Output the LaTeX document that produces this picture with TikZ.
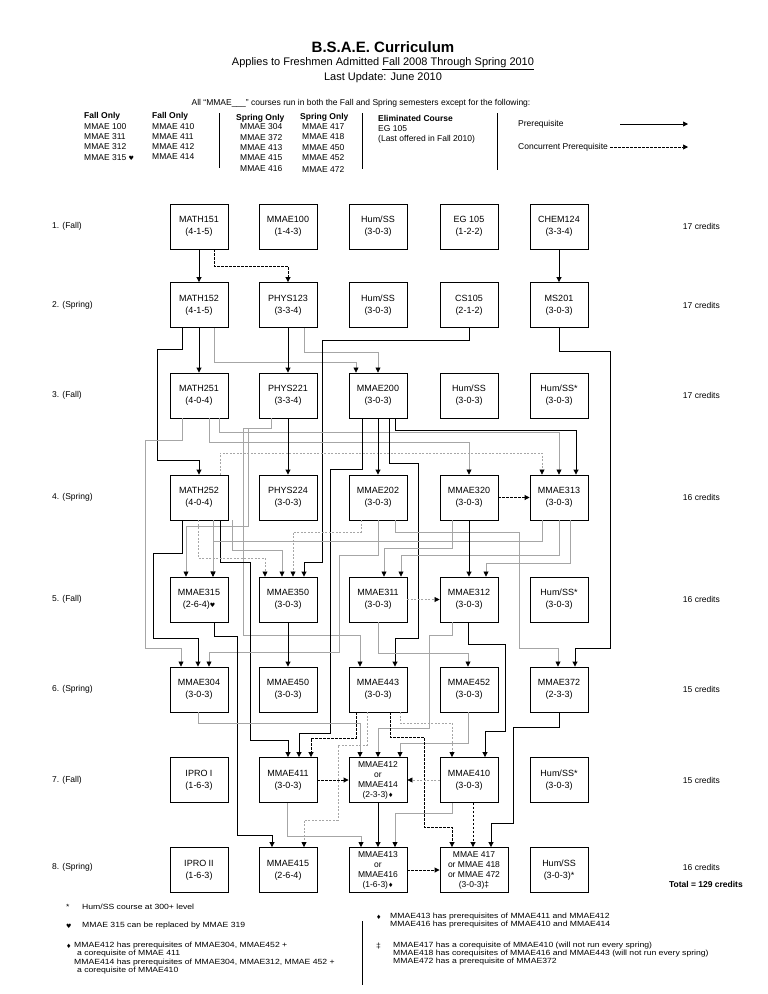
\documentclass[tikz,border=0pt]{standalone}
\usepackage{fontspec}
\setmainfont{Liberation Sans}
\newfontfamily\symfont{DejaVu Sans}
\newfontfamily\notefont[FakeStretch=1.15]{Liberation Sans}
\usetikzlibrary{arrows.meta}
\newcommand{\hrt}{{\symfont\fontsize{6}{6}\selectfont ♥}}
\newcommand{\dmd}{{\symfont\fontsize{6}{6}\selectfont ♦}}

\begin{document}
\begin{tikzpicture}[x=1pt,y=-1pt,>={Triangle[length=5pt,width=5pt]},
  course/.style={draw,line width=0.9pt,minimum width=58pt,minimum height=45pt,inner sep=1pt,align=center,font=\fontsize{9}{12}\selectfont},
  tallcourse/.style={course,font=\fontsize{8.5}{10}\selectfont},
  widecourse/.style={tallcourse,minimum width=68pt},
  pre/.style={line width=0.9pt,->},
  con/.style={pre,dash pattern=on 2.5pt off 1.5pt},
  gpre/.style={black!35,line width=0.7pt,-{Triangle[length=5pt,width=5pt,color=black]}},
  gcon/.style={gpre,dash pattern=on 2pt off 1.5pt},
  rowlab/.style={anchor=west,inner sep=0pt,font=\fontsize{8.5}{10}\selectfont},
  credit/.style={anchor=east,inner sep=0pt,font=\fontsize{8.5}{10}\selectfont},
  legend/.style={anchor=west,inner sep=0pt,font=\fontsize{8.5}{10}\selectfont},
  legendhead/.style={legend,font=\bfseries\fontsize{8.5}{10}\selectfont},
  note/.style={anchor=west,inner sep=0pt,font=\notefont\fontsize{7.5}{8}\selectfont}]
  \useasboundingbox (0,0) rectangle (768,994);

  % header
  \node[font=\bfseries\fontsize{15}{18}\selectfont] (title) at (383,47) {B.S.A.E. Curriculum};
  \node[font=\fontsize{11}{13}\selectfont] (applies) at (383,64) {Applies to Freshmen Admitted \underline{Fall 2008 Through Spring 2010}};
  \node[font=\fontsize{11}{13}\selectfont] (update) at (383,78) {Last Update: June 2010};
  \node[font=\fontsize{8.5}{10}\selectfont] (allrun) at (361,103) {All “MMAE\_\_\_” courses run in both the Fall and Spring semesters except for the following:};

  % legend
  \node[legendhead] (fallA) at (84,116) {Fall Only};
  \node[legend] (fallA1) at (84,127) {MMAE 100};
  \node[legend] (fallA2) at (84,137) {MMAE 311};
  \node[legend] (fallA3) at (84,147) {MMAE 312};
  \node[legend] (fallA4) at (84,158) {MMAE 315 \hrt};
  \node[legendhead] (fallB) at (152,116) {Fall Only};
  \node[legend] (fallB1) at (152,127) {MMAE 410};
  \node[legend] (fallB2) at (152,137) {MMAE 411};
  \node[legend] (fallB3) at (152,147) {MMAE 412};
  \node[legend] (fallB4) at (152,157) {MMAE 414};
  \draw[line width=0.8pt] (219,113) -- (219,168);
  \node[legendhead] (springA) at (236,118) {Spring Only};
  \node[legend] (springA1) at (240,127) {MMAE 304};
  \node[legend] (springA2) at (240,138) {MMAE 372};
  \node[legend] (springA3) at (240,148) {MMAE 413};
  \node[legend] (springA4) at (240,158) {MMAE 415};
  \node[legend] (springA5) at (240,169) {MMAE 416};
  \node[legendhead] (springB) at (300,117) {Spring Only};
  \node[legend] (springB1) at (302,127) {MMAE 417};
  \node[legend] (springB2) at (302,137) {MMAE 418};
  \node[legend] (springB3) at (302,148) {MMAE 450};
  \node[legend] (springB4) at (302,158) {MMAE 452};
  \node[legend] (springB5) at (302,170) {MMAE 472};
  \draw[line width=0.8pt] (362,113) -- (362,169);
  \node[legendhead] (elim) at (378,118) {Eliminated Course};
  \node[legend] (elim1) at (378,129) {EG 105};
  \node[legend] (elim2) at (378,139) {(Last offered in Fall 2010)};
  \draw[line width=0.8pt] (497,113) -- (497,170);
  \node[legend] (prelab) at (518,124) {Prerequisite};
  \node[legend] (conlab) at (518,147) {Concurrent Prerequisite};
  \coordinate (preA) at (620,124);
  \coordinate (preB) at (688,124);
  \coordinate (conA) at (610,147);
  \coordinate (conB) at (688,147);
  \draw[pre,line width=0.7pt] (preA) -- (preB);
  \draw[con,line width=0.7pt] (conA) -- (conB);

  % semesters
  \node[rowlab] (sem1) at (52,226.5) {1. (Fall)};
  \node[rowlab] (sem2) at (52,305) {2. (Spring)};
  \node[rowlab] (sem3) at (52,395.5) {3. (Fall)};
  \node[rowlab] (sem4) at (52,497.5) {4. (Spring)};
  \node[rowlab] (sem5) at (52,599.5) {5. (Fall)};
  \node[rowlab] (sem6) at (52,689.5) {6. (Spring)};
  \node[rowlab] (sem7) at (52,780) {7. (Fall)};
  \node[rowlab] (sem8) at (52,867) {8. (Spring)};
  \node[credit] (cr1) at (720,226.5) {17 credits};
  \node[credit] (cr2) at (720,305) {17 credits};
  \node[credit] (cr3) at (720,395.5) {17 credits};
  \node[credit] (cr4) at (720,497.5) {16 credits};
  \node[credit] (cr5) at (720,599.5) {16 credits};
  \node[credit] (cr6) at (720,689.5) {15 credits};
  \node[credit] (cr7) at (720,780) {15 credits};
  \node[credit] (cr8) at (720,867) {16 credits};
  \node[credit,font=\bfseries\fontsize{8.5}{10}\selectfont] (total) at (743,884) {Total = 129 credits};

  % courses
  \node[course] (math151) at (199,226.5) {MATH151\\(4-1-5)};
  \node[course] (mmae100) at (288,226.5) {MMAE100\\(1-4-3)};
  \node[course] (humss1) at (378,226.5) {Hum/SS\\(3-0-3)};
  \node[course] (eg105) at (469,226.5) {EG 105\\(1-2-2)};
  \node[course] (chem124) at (559,226.5) {CHEM124\\(3-3-4)};
  \node[course] (math152) at (199,305) {MATH152\\(4-1-5)};
  \node[course] (phys123) at (288,305) {PHYS123\\(3-3-4)};
  \node[course] (humss2) at (378,305) {Hum/SS\\(3-0-3)};
  \node[course] (cs105) at (469,305) {CS105\\(2-1-2)};
  \node[course] (ms201) at (559,305) {MS201\\(3-0-3)};
  \node[course] (math251) at (199,395.5) {MATH251\\(4-0-4)};
  \node[course] (phys221) at (288,395.5) {PHYS221\\(3-3-4)};
  \node[course] (mmae200) at (378,395.5) {MMAE200\\(3-0-3)};
  \node[course] (humss3) at (469,395.5) {Hum/SS\\(3-0-3)};
  \node[course] (humss3s) at (559,395.5) {Hum/SS*\\(3-0-3)};
  \node[course] (math252) at (199,497.5) {MATH252\\(4-0-4)};
  \node[course] (phys224) at (288,497.5) {PHYS224\\(3-0-3)};
  \node[course] (mmae202) at (378,497.5) {MMAE202\\(3-0-3)};
  \node[course] (mmae320) at (469,497.5) {MMAE320\\(3-0-3)};
  \node[course] (mmae313) at (559,497.5) {MMAE313\\(3-0-3)};
  \node[course] (mmae315) at (199,599.5) {MMAE315\\(2-6-4)\hrt};
  \node[course] (mmae350) at (288,599.5) {MMAE350\\(3-0-3)};
  \node[course] (mmae311) at (378,599.5) {MMAE311\\(3-0-3)};
  \node[course] (mmae312) at (469,599.5) {MMAE312\\(3-0-3)};
  \node[course] (humss5) at (559,599.5) {Hum/SS*\\(3-0-3)};
  \node[course] (mmae304) at (199,689.5) {MMAE304\\(3-0-3)};
  \node[course] (mmae450) at (288,689.5) {MMAE450\\(3-0-3)};
  \node[course] (mmae443) at (378,689.5) {MMAE443\\(3-0-3)};
  \node[course] (mmae452) at (469,689.5) {MMAE452\\(3-0-3)};
  \node[course] (mmae372) at (559,689.5) {MMAE372\\(2-3-3)};
  \node[course] (ipro1) at (199,780) {IPRO I\\(1-6-3)};
  \node[course] (mmae411) at (288,780) {MMAE411\\(3-0-3)};
  \node[tallcourse] (mmae412) at (378,780) {MMAE412\\or\\MMAE414\\(2-3-3)\dmd};
  \node[course] (mmae410) at (469,780) {MMAE410\\(3-0-3)};
  \node[course] (humss7) at (559,780) {Hum/SS*\\(3-0-3)};
  \node[course] (ipro2) at (199,870) {IPRO II\\(1-6-3)};
  \node[course] (mmae415) at (288,870) {MMAE415\\(2-6-4)};
  \node[tallcourse] (mmae413) at (378,870) {MMAE413\\or\\MMAE416\\(1-6-3)\dmd};
  \node[widecourse] (mmae417) at (474,870) {MMAE 417\\or MMAE 418\\or MMAE 472\\(3-0-3)‡};
  \node[course] (humss8) at (559,870) {Hum/SS\\(3-0-3)*};

  % prerequisites, years 1-2
  \draw[pre] (math151) -- (math152);
  \draw[con] (math151.south -| 214,0) -- (214,266) -| (phys123.north);
  \draw[pre] (chem124) -- (ms201);
  \draw[pre] (math152) -- (math251);
  \draw[pre] (math152.south -| 182,0) -- (182,349) -- (157,349) -- (157,460) -| (math252.north);
  \draw[gpre] (math152.south -| 214,0) -- (214,362) -| (mmae200.north -| 356,0);
  \draw[pre] (phys123) -- (phys221);
  \draw[gpre] (phys123.south -| 304,0) -- (304,352) -| (mmae200.north -| 378,0);
  \draw[pre] (cs105.south) -- (469,340) -- (322,340) -- (322,562) -| (mmae350.north -| 304,0);
  \draw[pre] (ms201.south) -- (559,351) -- (610,351) -- (610,648) -| (mmae372.north -| 575,0);
  \draw[gpre] (math251.south -| 182,0) -- (182,440) -- (145,440) -- (145,648) -| (mmae304.north -| 181,0);
  \draw[gpre] (math251.south -| 219,0) -- (219,432) -| (mmae313.north -| 559,0);
  \draw[gpre] (math251.south -| 209,0) -- (209,442) -| (mmae320.north);
  \draw[gcon] (math252.north -| 220,0) -- (220,453) -| (mmae313.north -| 542,0);
  \draw[pre] (phys221) -- (phys224);
  \draw[gpre] (phys221.south -| 271,0) -- (271,428) -- (248,428) -- (248,526) -| (mmae315.north -| 186,0);
  \draw[gpre] (phys221.south -| 271,0) -- (271,428) -- (243,428) -- (243,635) -| (mmae443.north -| 360,0);
  \draw[pre] (mmae200) -- (mmae202);
  \draw[pre] (mmae200.south -| 395,0) -- (395,430) -| (mmae313.north -| 576,0);
  \draw[pre] (mmae200.south -| 362,0) -- (362,469) -- (330,469) -- (330,733) -| (mmae411.north -| 299,0);
  \draw[pre] (mmae200.south -| 389,0) -- (389,463) -- (418,463) -- (418,638) -| (mmae443.north -| 395,0);
  \draw[con] (mmae320) -- (mmae313);

  % year 2-3
  \draw[pre] (math252.south -| 182,0) -- (182,553) -- (153,553) -- (153,638) -| (mmae304.north -| 198,0);
  \draw[pre] (math252.south -| 220,0) -- (220,562) -- (250,562) -- (250,740) -| (mmae411.north -| 288,0);
  \draw[gcon] (math252.south -| 198,0) -- (198,558) -| (mmae350.north -| 265,0);
  \draw[gpre] (math252.south -| 213,0) -- (mmae315.north -| 213,0);
  \draw[gpre] (math252.south -| 232,0) -- (232,550) -| (mmae350.north -| 282,0);
  \draw[gcon] (mmae202.south -| 361,0) -- (361,532) -| (mmae350.north -| 293,0);
  \draw[gpre] (mmae202.south -| 378,0) -- (378,555) -- (339,555) -- (339,652) -| (mmae304.north -| 209,0);
  \draw[gpre] (mmae202.south -| 395,0) -- (395,532) -- (519,532) -- (519,648) -| (mmae372.north -| 558,0);
  \draw[gpre] (mmae313.south -| 542,0) -- (542,541) -| (mmae315.north -| 213,0);
  \draw[gpre] (mmae313.south -| 559,0) -- (559,555) -| (mmae311.north -| 401,0);
  \draw[gpre] (mmae313.south -| 570,0) -- (570,563) -| (mmae312.north -| 486,0);
  \draw[gpre] (mmae320.south -| 452,0) -- (452,548) -| (mmae311.north -| 384,0);
  \draw[pre] (mmae320) -- (mmae312);
  \draw[gcon] (mmae311) -- (mmae312);
  \draw[pre] (mmae315.south -| 214,0) -- (214,636) -- (237,636) -- (237,835) -| (mmae415.north -| 272,0);
  \draw[pre] (mmae350) -- (mmae450);
  \draw[gpre] (mmae311.south) -- (378,653) -| (mmae452.north -| 468,0);
  \draw[gpre] (mmae312.south -| 452,0) -- (452,635) -- (429,635) -- (429,728) -| (mmae412.north);
  \draw[pre] (mmae312.south -| 468,0) -- (468,644) -- (505,644) -- (505,731) -| (mmae410.north -| 485,0);
  \draw[pre] (mmae372.south) -- (559,727) -- (513,727) -- (513,823) -| (mmae417.north -| 491,0);

  % year 4
  \draw[gpre] (mmae304.south -| 198,0) -- (198,723) -| (mmae412.north -| 360,0);
  \draw[gpre] (mmae452.south -| 468,0) -- (468,743) -| (mmae412.north -| 400,0);
  \draw[con] (mmae443.south -| 356,0) -- (356,738) -| (mmae411.north -| 311,0);
  \draw[gcon] (mmae443.south -| 367,0) -- (367,745) -- (338,745) -- (338,820) -| (mmae415.north -| 304,0);
  \draw[con] (mmae443.south -| 390,0) -- (390,737) -- (424,737) -- (424,827) -| (mmae417.north -| 452,0);
  \draw[gcon] (mmae443.south -| 400,0) -- (400,723) -| (mmae410.north -| 452,0);
  \draw[con] (mmae411) -- (mmae412);
  \draw[gcon] (mmae410) -- (mmae412);
  \draw[pre] (mmae412) -- (mmae413);
  \draw[con] (mmae410.south -| 473,0) -- (mmae417.north -| 473,0);
  \draw[gpre] (mmae410.south -| 452,0) -- (452,813) -| (mmae413.north -| 395,0);
  \draw[gpre] (mmae411.south -| 287,0) -- (287,836) -| (mmae413.north -| 361,0);
  \draw[con] (mmae413) -- (mmae417);

  % notes
  \node[note] (star) at (66,907) {*};
  \node[note] (starnote) at (82,907) {Hum/SS course at 300+ level};
  \node[note] (heart) at (66,926) {\hrt};
  \node[note] (heartnote) at (82,926) {MMAE 315 can be replaced by MMAE 319};
  \node[note] (dmdA) at (66,946) {\dmd};
  \node[note] (dmdA1) at (74,946) {MMAE412 has prerequisites of MMAE304, MMAE452 +};
  \node[note] (dmdA2) at (77,954) {a corequisite of MMAE 411};
  \node[note] (dmdA3) at (74,963) {MMAE414 has prerequisites of MMAE304, MMAE312, MMAE 452 +};
  \node[note] (dmdA4) at (77,971) {a corequisite of MMAE410};
  \draw[line width=0.7pt] (362,921) -- (362,985);
  \node[note] (dmdB) at (376,917) {\dmd};
  \node[note] (dmdB1) at (390,917) {MMAE413 has prerequisites of MMAE411 and MMAE412};
  \node[note] (dmdB2) at (390,925) {MMAE416 has prerequisites of MMAE410 and MMAE414};
  \node[note] (ddag) at (376,946) {‡};
  \node[note] (ddag1) at (393,946) {MMAE417 has a corequisite of MMAE410 (will not run every spring)};
  \node[note] (ddag2) at (393,954) {MMAE418 has corequisites of MMAE416 and MMAE443 (will not run every spring)};
  \node[note] (ddag3) at (393,962) {MMAE472 has a prerequisite of MMAE372};
\end{tikzpicture}
\end{document}
